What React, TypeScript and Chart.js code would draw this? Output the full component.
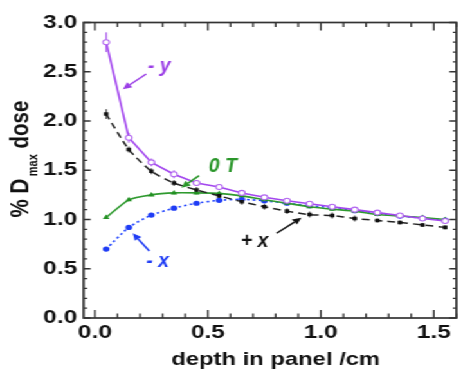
import React, { useEffect, useRef } from 'react';
import { Chart, registerables } from 'chart.js';

Chart.register(...registerables);

// ---- data ----
const DEPTH = [0.05, 0.15, 0.25, 0.35, 0.45, 0.55, 0.65, 0.75, 0.85, 0.95, 1.05, 1.15, 1.25, 1.35, 1.45, 1.55];

const DOSE_MINUS_Y = [2.8, 1.83, 1.58, 1.46, 1.37, 1.33, 1.27, 1.225, 1.19, 1.16, 1.13, 1.1, 1.07, 1.04, 1.01, 0.985];
const ERR_MINUS_Y = [0.1, 0.05, 0.04, 0.04, 0.03, 0.03, 0.03, 0.02, 0.02, 0.02, 0.02, 0.02, 0.02, 0.02, 0.02, 0.02];

const DOSE_PLUS_X = [2.07, 1.71, 1.49, 1.37, 1.3, 1.24, 1.18, 1.13, 1.085, 1.05, 1.04, 1.01, 0.99, 0.97, 0.945, 0.92];
const ERR_PLUS_X = [0.05, 0.03, 0.03, 0.03, 0.03, 0.03, 0.03, 0.03, 0.03, 0.03, 0.03, 0.03, 0.02, 0.02, 0.02, 0.02];

const DOSE_ZERO_T = [1.02, 1.2, 1.25, 1.27, 1.27, 1.265, 1.24, 1.2, 1.165, 1.13, 1.105, 1.085, 1.05, 1.035, 1.02, 1.0];
const ERR_ZERO_T = [0.015, 0.015, 0.015, 0.015, 0.015, 0.015, 0.015, 0.015, 0.015, 0.015, 0.015, 0.015, 0.015, 0.015, 0.015, 0.015];

const DOSE_MINUS_X = [0.7, 0.92, 1.045, 1.115, 1.165, 1.195, 1.205, 1.19, 1.165, 1.14, 1.12, 1.09, 1.06, 1.035, 1.015, 0.995];
const ERR_MINUS_X = [0.015, 0.015, 0.015, 0.015, 0.015, 0.015, 0.015, 0.015, 0.015, 0.015, 0.015, 0.015, 0.015, 0.015, 0.015, 0.015];

const X_TICKS = [0, 0.5, 1.0, 1.5];
const Y_TICKS = [0, 0.5, 1.0, 1.5, 2.0, 2.5, 3.0];
const X_TITLE = 'depth in panel /cm';
const Y_TITLE_PARTS = ['% D', 'max', ' dose'];

// annotation labels with arrows (data units)
const ANNOTATIONS = [
  { text: '- y', color: '#9b3fe6', tx: 0.234, ty: 2.5, fx: 0.227, fy: 2.477, hx: 0.124, hy: 2.322 },
  { text: '0 T', color: '#2a962a', tx: 0.504, ty: 1.482, fx: 0.461, fy: 1.445, hx: 0.383, hy: 1.323 },
  { text: '- x', color: '#1f3cf5', tx: 0.227, ty: 0.521, fx: 0.241, fy: 0.68, hx: 0.168, hy: 0.86 },
  { text: '+ x', color: '#111111', tx: 0.646, ty: 0.718, fx: 0.804, fy: 0.86, hx: 0.914, hy: 1.018 },
];

// ---- layout ----
const W = 360;
const H = 370;
const STRETCH = 463 / W;
const FONT = "'Liberation Sans', Arial, Helvetica, sans-serif";

const pts = (vals: number[]) => DEPTH.map((x, i) => ({ x, y: vals[i] }));

const decorPlugin = {
  id: 'decor',
  beforeDatasetsDraw(chart: any) {
    const { ctx, scales } = chart;
    const xs = scales.x;
    const ys = scales.y;
    ctx.save();
    chart.data.datasets.forEach((ds: any) => {
      const errs: number[] = ds.errors || [];
      ctx.strokeStyle = ds.errColor;
      ctx.lineWidth = 1.3;
      ds.data.forEach((p: any, i: number) => {
        const e = errs[i] || 0;
        const px = xs.getPixelForValue(p.x);
        ctx.beginPath();
        ctx.moveTo(px, ys.getPixelForValue(p.y - e));
        ctx.lineTo(px, ys.getPixelForValue(p.y + e));
        ctx.stroke();
      });
    });
    ctx.restore();
  },
  afterDraw(chart: any) {
    const { ctx, chartArea: a, scales } = chart;
    const xs = scales.x;
    const ys = scales.y;
    ctx.save();
    // frame
    ctx.strokeStyle = '#333333';
    ctx.lineWidth = 1.7;
    ctx.strokeRect(a.left, a.top, a.right - a.left, a.bottom - a.top);
    // x ticks (inward, top & bottom)
    ctx.lineWidth = 1.3;
    for (let k = 0; k <= 16; k++) {
      const v = k / 10;
      const px = xs.getPixelForValue(v);
      const major = X_TICKS.some((t) => Math.abs(t - v) < 1e-9);
      const len = major ? 8 : 4.5;
      ctx.beginPath();
      ctx.moveTo(px, a.bottom);
      ctx.lineTo(px, a.bottom - len);
      ctx.moveTo(px, a.top);
      ctx.lineTo(px, a.top + len);
      ctx.stroke();
    }
    // y ticks (inward, left & right)
    for (let k = 0; k <= 30; k++) {
      const v = k / 10;
      const py = ys.getPixelForValue(v);
      const major = Y_TICKS.some((t) => Math.abs(t - v) < 1e-9);
      const len = major ? 5.5 : 2.8;
      ctx.beginPath();
      ctx.moveTo(a.left, py);
      ctx.lineTo(a.left + len, py);
      ctx.moveTo(a.right, py);
      ctx.lineTo(a.right - len, py);
      ctx.stroke();
    }
    // x title
    ctx.fillStyle = '#111';
    ctx.font = `bold 18.5px ${FONT}`;
    ctx.textAlign = 'center';
    ctx.textBaseline = 'alphabetic';
    ctx.fillText(X_TITLE, xs.getPixelForValue(0.8), 364.5);
    // y title with subscript
    ctx.save();
    ctx.translate(21.5, 159);
    ctx.rotate(-Math.PI / 2);
    ctx.textAlign = 'left';
    const bigFont = `bold 20.5px ${FONT}`;
    const smallFont = `bold 11px ${FONT}`;
    ctx.font = bigFont;
    const w1 = ctx.measureText(Y_TITLE_PARTS[0]).width;
    const w3 = ctx.measureText(Y_TITLE_PARTS[2]).width;
    ctx.font = smallFont;
    const w2 = ctx.measureText(Y_TITLE_PARTS[1]).width;
    const gap = 2.5;
    const total = w1 + gap + w2 + w3;
    let cx = -total / 2;
    ctx.font = bigFont;
    ctx.fillText(Y_TITLE_PARTS[0], cx, 0);
    cx += w1 + gap;
    ctx.font = smallFont;
    ctx.fillText(Y_TITLE_PARTS[1], cx, 7);
    cx += w2;
    ctx.font = bigFont;
    ctx.fillText(Y_TITLE_PARTS[2], cx, 0);
    ctx.restore();
    // annotations
    ANNOTATIONS.forEach((an) => {
      const x0 = xs.getPixelForValue(an.fx);
      const y0 = ys.getPixelForValue(an.fy);
      const x1 = xs.getPixelForValue(an.hx);
      const y1 = ys.getPixelForValue(an.hy);
      ctx.strokeStyle = an.color;
      ctx.fillStyle = an.color;
      ctx.lineWidth = 1.5;
      const ang = Math.atan2(y1 - y0, x1 - x0);
      const hl = 7;
      const hw = 3.2;
      const bx = x1 - hl * Math.cos(ang);
      const by = y1 - hl * Math.sin(ang);
      ctx.beginPath();
      ctx.moveTo(x0, y0);
      ctx.lineTo(bx, by);
      ctx.stroke();
      ctx.beginPath();
      ctx.moveTo(x1, y1);
      ctx.lineTo(bx + hw * Math.sin(ang), by - hw * Math.cos(ang));
      ctx.lineTo(bx - hw * Math.sin(ang), by + hw * Math.cos(ang));
      ctx.closePath();
      ctx.fill();
      ctx.save();
      ctx.translate(xs.getPixelForValue(an.tx), ys.getPixelForValue(an.ty));
      ctx.scale(1 / STRETCH, 1);
      ctx.font = `italic bold 19.5px ${FONT}`;
      ctx.textAlign = 'left';
      ctx.textBaseline = 'alphabetic';
      ctx.fillText(an.text, 0, 0);
      ctx.restore();
    });
    ctx.restore();
  },
};

export default function App() {
  const ref = useRef<HTMLCanvasElement | null>(null);
  useEffect(() => {
    if (!ref.current) return;
    const chart = new Chart(ref.current, {
      type: 'line',
      data: {
        datasets: [
          {
            label: '- y',
            data: pts(DOSE_MINUS_Y),
            errors: ERR_MINUS_Y,
            errColor: 'rgba(165,80,235,0.8)',
            borderColor: '#a347ee',
            borderWidth: 1.6,
            pointStyle: 'circle',
            pointRadius: 2.5,
            pointBackgroundColor: '#ffffff',
            pointBorderColor: '#b266f0',
            pointBorderWidth: 1.1,
            tension: 0,
          } as any,
          {
            label: '+ x',
            data: pts(DOSE_PLUS_X),
            errors: ERR_PLUS_X,
            errColor: 'rgba(20,20,20,0.65)',
            borderColor: '#222222',
            borderWidth: 1.5,
            borderDash: [6, 4],
            pointStyle: 'rect',
            pointRadius: 2.5,
            pointBackgroundColor: '#111111',
            pointBorderColor: '#111111',
            pointBorderWidth: 0,
            tension: 0.2,
          } as any,
          {
            label: '0 T',
            data: pts(DOSE_ZERO_T),
            errors: ERR_ZERO_T,
            errColor: 'rgba(40,150,40,0.7)',
            borderColor: '#2f9a2f',
            borderWidth: 1.6,
            pointStyle: 'triangle',
            pointRadius: 3,
            pointBackgroundColor: '#239023',
            pointBorderColor: '#239023',
            pointBorderWidth: 0,
            tension: 0.2,
          } as any,
          {
            label: '- x',
            data: pts(DOSE_MINUS_X),
            errors: ERR_MINUS_X,
            errColor: 'rgba(30,60,245,0.7)',
            borderColor: '#2346ff',
            borderWidth: 1.6,
            borderDash: [2, 2.5],
            pointStyle: 'circle',
            pointRadius: 2.6,
            pointBackgroundColor: '#1f3cf5',
            pointBorderColor: '#1f3cf5',
            pointBorderWidth: 0,
            tension: 0.2,
          } as any,
        ],
      },
      options: {
        responsive: false,
        maintainAspectRatio: false,
        animation: false,
        events: [],
        layout: { padding: { top: 22.5, right: 2.5, left: 0, bottom: 0 } },
        plugins: {
          legend: { display: false },
          tooltip: { enabled: false },
          title: { display: false },
        },
        scales: {
          x: {
            type: 'linear',
            min: -0.05,
            max: 1.6,
            grid: { display: false, drawTicks: false },
            border: { display: false },
            afterBuildTicks: (scale: any) => {
              scale.ticks = X_TICKS.map((v) => ({ value: v }));
            },
            afterFit: (scale: any) => {
              scale.height = 52;
            },
            ticks: {
              padding: 3,
              color: '#111',
              font: { family: FONT, size: 19, weight: 'bold' },
              maxRotation: 0,
              callback: (v: any) => Number(v).toFixed(1),
            },
          },
          y: {
            type: 'linear',
            min: 0,
            max: 3,
            grid: { display: false, drawTicks: false },
            border: { display: false },
            afterBuildTicks: (scale: any) => {
              scale.ticks = Y_TICKS.map((v) => ({ value: v }));
            },
            afterFit: (scale: any) => {
              scale.width = 65;
            },
            ticks: {
              padding: 5,
              color: '#111',
              font: { family: FONT, size: 19, weight: 'bold' },
              callback: (v: any) => Number(v).toFixed(1),
            },
          },
        },
      } as any,
      plugins: [decorPlugin],
    });
    return () => chart.destroy();
  }, []);

  return (
    <div
      style={{
        position: 'fixed',
        left: 0,
        top: 0,
        width: W,
        height: H,
        transform: `scaleX(${STRETCH})`,
        transformOrigin: '0 0',
        background: '#fff',
      }}
    >
      <canvas ref={ref} width={W} height={H} style={{ width: W, height: H, display: 'block' }} />
    </div>
  );
}
